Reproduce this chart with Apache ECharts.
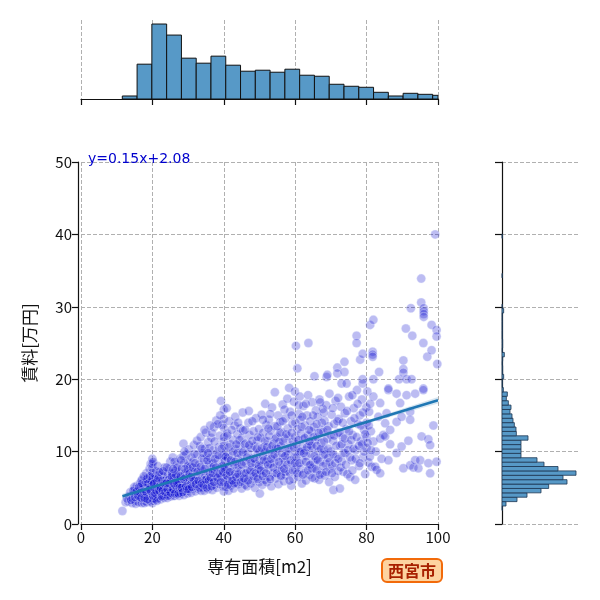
<!DOCTYPE html>
<html>
<head>
<meta charset="utf-8">
<title>西宮市 jointplot</title>
<script src="https://cdn.jsdelivr.net/npm/echarts@6/dist/echarts.min.js"></script>
<style>
html,body{margin:0;padding:0;background:#fff;}
#chart{width:600px;height:600px;}
</style>
</head>
<body>
<div id="chart"></div>
<script>
// 回帰式 (ラベルより)
var slope = 0.15;
var intercept = 2.08;
var lineStartX = 11.6;
var lineEndX = 100;
// 信頼区間の半幅 (目視)
var ciX = [11.6, 30, 56, 80, 100];
var ciHalf = [0.35, 0.15, 0.1, 0.2, 0.45];

// 上側ヒストグラム: 専有面積
var areaBinStart = 11.57;
var areaBinWidth = 4.14;
var areaCounts = [9, 104, 224, 191, 122, 107, 128, 101, 83, 86, 80, 89, 71, 68, 44, 38, 35, 20, 9, 17, 14, 11];

// 右側ヒストグラム: 賃料
var rentBinStart = 1.88;
var rentBinWidth = 0.606;
var rentCounts = [1, 12, 45, 75, 117, 140, 195, 183, 222, 168, 126, 105, 57, 57, 57, 57, 78, 43, 42, 37,
	33, 30, 24, 27, 19, 13, 16, 4, 1, 1, 5, 2, 2, 1, 2, 7, 1, 2, 2, 1,
	1, 1, 1, 1, 1, 5, 1, 0, 0, 0, 0, 0, 0, 1, 0, 0, 0, 0, 0, 0,
	0, 0, 1];

// 散布図 [専有面積, 賃料]
var points = [
	[11.6,1.8],[12.5,3.0],[13.2,3.1],[13.5,3.8],[13.8,4.4],[12.9,3.5],
	[14.3,2.9],[14.5,3.5],[14.8,4.2],[15.0,4.8],[15.2,3.2],[15.5,4.0],[15.7,5.3],[15.9,3.6],[14.9,5.1],[15.3,2.8],
	[16.1,3.0],[16.3,4.1],[16.5,4.7],[16.6,5.6],[16.8,3.4],[17.0,2.9],[17.0,4.4],[17.2,6.2],[17.3,5.0],[17.5,3.7],
	[17.6,4.0],[17.8,5.4],[17.9,3.2],[16.9,6.0],[17.4,4.8],[16.4,3.7],[17.7,2.9],[16.7,5.2],
	[18.0,3.5],[18.1,4.6],[18.2,5.8],[18.3,7.0],[18.4,3.0],[18.5,4.2],[18.6,5.1],[18.7,6.4],[18.8,3.8],[18.9,4.9],
	[19.0,5.6],[19.1,3.3],[19.2,7.6],[19.3,4.4],[19.4,6.0],[19.5,8.3],[19.6,3.6],[19.7,5.2],[19.8,4.0],[19.9,6.8],
	[18.5,5.5],[19.0,4.7],[18.2,3.9],[19.4,3.1],
	[20.0,2.9],[20.0,3.5],[20.0,4.1],[20.0,4.7],[20.0,5.3],[20.0,5.9],[20.0,6.5],[20.0,7.1],[20.0,7.7],[20.0,8.3],
	[20.0,9.0],[20.2,8.6],[20.1,6.2],
	[20.3,3.2],[20.4,4.4],[20.5,5.0],[20.6,5.7],[20.7,3.8],[20.8,6.6],[20.9,4.6],[21.0,3.4],[21.0,5.3],[21.1,7.3],
	[21.2,4.1],[21.3,6.0],[21.4,4.8],[21.5,3.6],[21.5,8.0],[21.6,5.5],[21.7,4.3],[21.8,6.8],[21.9,3.9],[22.0,5.1],
	[20.6,4.9],[21.2,5.8],[20.9,6.3],[21.7,5.0],[21.4,4.0],[20.5,3.5],
	[22.1,4.5],[22.2,6.2],[22.3,3.4],[22.4,5.6],[22.5,4.0],[22.6,7.0],[22.7,4.9],[22.8,3.7],[22.9,5.9],[23.0,4.3],
	[23.1,6.6],[23.2,5.2],[23.3,3.6],[23.4,7.8],[23.5,4.7],[23.6,5.5],[23.7,4.1],[23.8,6.3],[23.9,3.9],[22.4,4.8],
	[23.0,5.0],[22.7,6.0],[23.5,6.0],[22.9,3.9],[23.8,5.1],[22.2,5.3],
	[24.0,4.4],[24.1,5.8],[24.2,3.6],[24.3,6.9],[24.4,4.9],[24.5,5.3],[24.6,7.6],[24.7,4.1],[24.8,6.2],[24.9,5.0],
	[25.0,3.8],[25.0,8.6],[25.1,6.0],[25.2,4.6],[25.3,7.1],[25.4,5.5],[25.5,4.2],[25.6,6.5],[25.7,9.2],[25.8,5.1],
	[25.9,3.9],[24.5,6.1],[25.2,5.9],[24.8,4.5],[25.5,7.0],
	[26.0,4.8],[26.1,6.4],[26.2,3.9],[26.3,5.6],[26.4,7.4],[26.5,4.4],[26.6,6.0],[26.7,5.1],[26.8,8.2],[26.9,4.1],
	[27.0,6.8],[27.1,5.4],[27.2,4.6],[27.3,7.2],[27.4,5.8],[27.5,3.9],[27.6,6.3],[27.7,9.0],[27.8,5.0],[27.9,4.3],
	[26.5,5.3],[27.2,6.1],[26.8,4.8],[27.5,5.5],
	[28.0,4.2],[28.1,5.9],[28.2,7.6],[28.3,4.7],[28.5,6.6],[28.6,5.2],[28.7,11.1],[28.8,4.0],[28.9,8.4],[29.0,6.0],
	[29.1,5.0],[29.2,7.0],[29.4,4.5],[29.5,9.6],[29.6,5.6],[29.7,6.9],[29.8,4.2],[29.9,8.0],[28.4,5.3],[29.3,6.4],[28.7,9.4],
	[30.0,4.6],[30.0,5.5],[30.0,6.5],[30.0,7.5],[30.0,8.5],[30.2,10.3],[30.3,5.0],[30.5,6.1],[30.6,7.9],[30.8,4.3],
	[30.9,9.2],[31.0,5.8],[31.2,6.8],[31.3,4.9],[31.5,8.7],[31.6,10.9],[31.7,5.3],[31.9,7.3],[31.4,6.3],[30.7,5.5],
	[32.0,4.5],[32.1,6.0],[32.3,7.7],[32.4,5.2],[32.6,9.6],[32.7,6.6],[32.9,4.8],[33.0,8.2],[33.1,5.7],[33.3,10.8],
	[33.4,7.1],[33.6,4.6],[33.7,6.2],[33.9,9.0],[33.0,5.4],[32.5,11.5],[33.5,12.0],
	[34.0,5.0],[34.1,7.3],[34.2,6.0],[34.4,8.9],[34.5,4.6],[34.7,10.4],[34.8,6.6],[35.0,5.4],[35.0,7.9],[35.0,12.6],
	[35.2,9.5],[35.3,6.3],[35.5,4.8],[35.6,11.3],[35.7,7.0],[35.9,8.4],[35.4,5.8],[34.6,13.0],
	[36.0,5.1],[36.1,6.9],[36.2,9.1],[36.4,5.7],[36.5,11.9],[36.6,7.6],[36.8,4.7],[36.9,8.4],[37.0,6.2],[37.1,10.2],
	[37.3,13.4],[37.4,5.4],[37.5,7.3],[37.7,9.7],[37.8,6.5],[37.9,14.3],[37.2,8.0],[36.7,12.6],
	[38.0,5.0],[38.1,7.0],[38.3,8.8],[38.4,6.0],[38.6,10.6],[38.7,5.5],[38.9,12.2],[39.0,7.8],[39.2,17.0],[39.3,6.6],
	[39.5,9.3],[39.6,13.7],[39.8,5.2],[39.9,11.4],[40.0,4.5],[40.0,5.8],[40.0,7.0],[40.0,8.2],[40.0,9.5],[40.0,10.8],
	[40.0,12.0],[40.0,13.3],[40.0,14.5],[40.0,15.8],[39.5,8.0],
	[40.2,6.3],[40.3,8.7],[40.5,5.1],[40.6,10.0],[40.7,7.5],[40.9,12.5],[41.0,6.1],[41.1,9.1],[41.3,4.6],[41.4,7.9],
	[41.5,14.2],[41.7,6.8],[41.8,11.0],[41.9,8.5],[41.2,5.6],[40.8,16.0],
	[42.0,5.3],[42.1,7.2],[42.3,9.4],[42.4,6.4],[42.6,11.6],[42.7,4.9],[42.9,8.2],[43.0,13.6],[43.1,6.9],[43.3,10.3],
	[43.4,5.7],[43.6,7.7],[43.8,12.4],[43.9,9.0],[43.2,14.8],[42.5,6.0],
	[44.0,5.5],[44.1,8.0],[44.3,10.8],[44.4,6.5],[44.6,13.2],[44.7,7.3],[44.9,9.5],[45.0,4.9],[45.0,11.9],[45.2,6.0],
	[45.3,15.4],[45.5,8.6],[45.6,7.0],[45.8,10.2],[45.9,5.4],[45.4,12.9],
	[46.0,6.2],[46.2,8.4],[46.3,11.2],[46.5,5.2],[46.6,7.5],[46.8,9.8],[46.9,14.0],[47.1,6.7],[47.2,12.3],[47.4,8.9],
	[47.5,5.6],[47.7,10.5],[47.9,7.8],[47.0,15.6],
	[48.0,6.0],[48.1,9.1],[48.3,12.8],[48.4,7.2],[48.6,10.7],[48.7,5.0],[48.9,8.3],[49.0,14.6],[49.2,6.5],[49.3,11.5],
	[49.5,9.7],[49.6,7.6],[49.8,13.1],[49.9,5.8],[50.0,8.8],[50.1,4.2],[50.0,10.0],
	[50.2,6.9],[50.3,11.9],[50.5,8.0],[50.6,15.1],[50.8,5.4],[50.9,9.4],[51.0,12.6],[51.2,7.3],[51.3,10.6],[51.5,6.1],
	[51.6,16.6],[51.8,8.6],[51.9,13.7],[51.4,9.9],
	[52.0,5.8],[52.2,9.0],[52.3,11.4],[52.5,7.6],[52.6,14.4],[52.8,6.5],[52.9,10.2],[53.0,8.3],[53.2,12.9],[53.3,5.2],
	[53.5,16.1],[53.6,9.5],[53.8,7.0],[53.9,11.1],
	[54.0,8.5],[54.2,13.5],[54.3,18.2],[54.5,6.3],[54.6,10.4],[54.8,12.0],[55.0,7.4],[55.0,9.3],[55.2,15.0],[55.3,5.5],
	[55.5,11.3],[55.7,8.1],[55.8,14.1],[55.9,6.8],
	[56.0,10.8],[56.1,12.7],[56.3,7.7],[56.5,16.5],[56.6,9.1],[56.8,5.9],[57.0,11.8],[57.1,8.6],[57.3,14.6],[57.4,6.7],
	[57.6,10.1],[57.8,17.3],[57.9,13.2],[57.2,7.2],
	[58.0,9.6],[58.1,12.1],[58.3,18.8],[58.4,7.1],[58.6,15.5],[58.7,10.9],[58.9,5.3],[59.0,8.4],[59.2,13.8],[59.3,11.5],
	[59.5,6.2],[59.6,16.9],[59.8,9.2],[59.9,18.3],[60.0,10.0],[60.0,12.0],[60.0,14.0],[60.0,7.5],[60.2,24.6],[60.6,21.5],
	[60.3,11.0],[60.5,8.1],[60.6,13.1],[60.8,6.5],[61.0,15.2],[61.1,9.9],[61.3,17.6],[61.5,7.6],[61.6,12.5],[61.8,10.6],
	[61.9,5.6],[61.4,14.4],
	[62.0,8.8],[62.2,11.7],[62.3,16.3],[62.5,7.0],[62.7,13.6],[62.8,10.2],[63.0,6.0],[63.1,9.4],[63.3,15.0],[63.5,12.2],
	[63.6,17.8],[63.7,25.0],[63.8,8.0],[63.9,11.0],
	[64.0,6.8],[64.2,14.2],[64.3,9.7],[64.5,12.8],[64.7,7.7],[64.8,16.8],[65.0,10.5],[65.0,8.5],[65.2,13.4],[65.4,20.4],
	[65.5,6.3],[65.6,11.6],[65.8,15.7],[65.9,9.0],
	[66.0,7.4],[66.2,12.0],[66.3,14.8],[66.5,10.0],[66.7,6.1],[66.8,17.2],[67.0,8.6],[67.2,13.0],[67.3,11.2],[67.5,7.0],
	[67.7,15.9],[67.8,9.5],[67.9,12.7],
	[68.0,10.3],[68.2,14.3],[68.3,6.7],[68.5,8.3],[68.7,16.4],[68.8,20.3],[69.0,11.8],[69.0,20.6],[69.2,9.1],[69.3,13.5],
	[69.5,5.8],[69.6,18.0],[69.8,7.6],[69.9,12.3],
	[70.0,10.0],[70.2,15.1],[70.4,8.0],[70.6,11.5],[70.7,4.7],[70.9,13.8],[71.1,6.5],[71.3,17.0],[71.5,9.3],[71.8,21.6],
	[71.8,20.8],[71.9,12.6],
	[72.0,7.3],[72.2,14.5],[72.5,4.9],[72.6,10.8],[72.8,16.2],[73.0,8.7],[73.0,19.4],[73.3,12.0],[73.5,7.2],[73.8,22.4],
	[73.8,21.0],[73.9,15.3],
	[74.0,9.8],[74.3,13.1],[74.4,19.4],[74.6,6.9],[74.9,11.0],[75.1,17.6],[75.4,6.5],[75.6,14.2],[75.9,8.8],
	[76.1,12.3],[76.4,16.0],[76.8,6.1],[77.0,10.2],[77.2,26.0],[77.2,25.0],[77.3,18.5],[77.6,13.8],[77.9,8.0],
	[78.1,15.0],[78.2,22.7],[78.4,11.4],[78.7,17.2],[78.9,23.5],[78.9,20.0],[78.9,19.4],[79.0,9.2],[79.3,13.0],[79.6,6.9],
	[79.9,16.1],
	[80.0,10.5],[80.0,14.0],[80.0,12.0],[80.2,18.3],[80.5,8.5],[80.9,9.3],[81.0,27.5],[81.4,7.9],[81.7,23.8],[81.7,23.4],
	[81.7,23.1],[81.9,28.2],[81.9,20.0],[81.9,17.6],[81.9,11.4],[80.7,15.5],[81.2,12.8],
	[82.4,7.9],[82.8,7.5],[83.3,14.8],[83.5,21.0],[83.8,16.7],[83.8,11.8],[83.8,7.0],[84.7,12.3],[85.2,13.9],[85.2,12.1],
	[85.6,15.3],[82.6,10.0],[84.2,9.0],
	[86.1,18.5],[86.1,18.7],[86.1,8.8],[86.6,13.0],[86.6,11.0],[88.4,18.0],[88.4,14.1],[88.4,9.8],[89.1,20.0],[89.4,16.7],
	[89.8,14.8],[89.8,10.7],
	[90.3,22.6],[90.3,21.4],[90.3,20.9],[90.3,7.7],[91.0,27.0],[91.2,20.0],[91.2,17.8],[91.7,11.5],[92.2,15.5],[92.2,14.4],
	[92.2,8.1],[92.4,29.8],[92.6,20.0],[92.8,26.0],[93.1,7.8],[93.6,18.0],[93.6,8.8],
	[94.5,7.7],[95.0,8.8],[95.3,33.9],[95.3,30.6],[95.4,12.1],[95.9,25.0],[95.9,18.7],[95.9,18.5],[96.0,29.8],[96.0,29.4],
	[96.0,29.0],[96.0,28.6],[97.0,23.1],[97.3,11.7],[97.3,8.4],[97.8,10.9],[97.8,7.0],[98.2,27.5],[98.2,24.0],[98.7,13.6],
	[99.2,40.0],[99.6,26.8],[99.6,25.9],[99.6,8.6],[99.8,22.1],
	// 密集部
	[14.0,3.3],[14.6,4.6],[15.1,3.7],[15.6,4.5],[16.0,3.9],[16.2,5.1],[16.6,4.3],[16.9,3.6],[17.1,5.6],[17.5,4.5],
	[17.8,3.6],[18.3,4.4],[18.6,3.4],[18.8,5.6],[19.2,4.8],[19.6,4.5],[19.8,5.8],[18.4,6.2],[19.3,6.6],[17.6,6.6],
	[20.2,3.9],[20.4,5.6],[20.8,4.2],[21.1,4.6],[21.3,3.2],[21.6,6.3],[21.9,4.6],[22.3,5.0],[22.6,3.8],[22.9,4.6],
	[23.3,5.6],[23.6,4.4],[23.9,5.6],[24.2,4.8],[24.4,3.9],[24.7,5.6],[25.1,4.3],[25.4,6.6],[25.7,4.8],[26.0,5.6],
	[26.3,4.2],[26.6,6.8],[26.9,5.6],[27.3,4.2],[27.6,5.0],[27.9,6.6],[28.2,5.0],[28.5,4.4],[28.8,6.2],[29.1,7.6],
	[29.4,5.2],[29.7,4.8],[22.0,7.2],[23.0,7.3],[24.0,7.8],[26.2,8.6],[27.0,7.8],[28.0,8.8],[29.0,10.0],[25.8,7.6],
	[30.2,4.8],[30.4,7.0],[30.8,6.5],[31.1,5.1],[31.3,7.8],[31.7,6.0],[32.0,8.4],[32.2,5.5],[32.6,7.2],[32.9,6.0],
	[33.2,5.0],[33.5,7.9],[33.8,5.6],[34.1,9.8],[34.3,5.4],[34.6,7.6],[34.9,6.1],[35.2,5.0],[35.4,8.8],[35.8,6.0],
	[36.0,10.5],[36.3,6.4],[36.6,5.2],[36.9,7.0],[37.2,5.8],[37.5,9.0],[37.8,7.8],[38.2,6.4],[38.5,9.5],[38.8,6.9],
	[39.1,5.8],[39.4,10.4],[39.7,7.2],[31.8,9.7],[33.8,10.4],[35.6,9.8],[37.4,11.4],[38.3,13.8],[39.0,15.0],[36.2,13.6],
	[40.2,7.6],[40.5,9.3],[40.8,6.7],[41.1,5.4],[41.4,10.6],[41.7,7.2],[42.0,8.8],[42.3,6.0],[42.6,10.0],[42.9,5.6],
	[43.2,8.6],[43.5,6.5],[43.8,9.8],[44.1,6.9],[44.4,11.6],[44.7,5.8],[45.0,8.2],[45.3,9.9],[45.6,6.3],[45.9,11.0],
	[46.2,7.0],[46.5,9.2],[46.8,6.0],[47.1,10.9],[47.4,7.4],[47.7,8.4],[48.0,11.5],[48.3,6.6],[48.6,9.0],[48.9,7.0],
	[49.2,10.4],[49.5,6.2],[49.8,8.1],[41.0,12.2],[42.2,13.0],[44.0,14.0],[46.0,13.0],[48.0,14.2],[49.5,12.0],[43.5,11.0],
	[50.3,7.4],[50.6,10.5],[50.9,6.6],[51.2,8.8],[51.5,11.5],[51.8,7.0],[52.1,10.6],[52.4,8.2],[52.7,12.2],[53.0,6.2],
	[53.3,9.0],[53.6,10.8],[53.9,7.8],[54.2,9.6],[54.5,11.8],[54.8,7.0],[55.1,10.4],[55.4,8.6],[55.7,12.6],[56.0,6.6],
	[56.3,9.8],[56.6,11.4],[56.9,7.6],[57.2,9.4],[57.5,12.4],[57.8,8.2],[58.1,10.4],[58.4,6.0],[58.7,8.8],[59.0,12.6],
	[59.3,7.4],[59.6,10.6],[59.9,8.4],[51.0,14.4],[53.0,15.2],[55.0,13.5],[57.0,15.8],[59.0,15.0],[52.5,13.2],[56.5,14.2],
	[60.3,9.2],[60.6,7.0],[60.9,11.6],[61.2,8.4],[61.5,10.0],[61.8,13.4],[62.1,6.8],[62.4,9.8],[62.7,11.9],[63.0,8.6],
	[63.3,10.6],[63.6,7.4],[63.9,13.0],[64.2,8.2],[64.5,10.8],[64.8,6.4],[65.1,12.0],[65.4,9.4],[65.7,7.6],[66.0,10.8],
	[66.3,8.8],[66.6,12.6],[66.9,6.8],[67.2,10.4],[67.5,14.0],[67.8,8.0],[68.1,11.4],[68.4,9.6],[68.7,7.2],[69.0,13.0],
	[69.3,10.4],[69.6,8.6],[61.0,16.4],[63.0,16.6],[65.0,15.0],[67.0,16.8],[62.0,14.8],[64.0,11.4],[66.0,13.8],[68.0,15.4],
	[70.3,7.0],[70.6,9.6],[70.9,12.2],[71.2,8.4],[71.5,10.8],[71.8,14.2],[72.1,9.0],[72.4,12.6],[72.7,7.8],[73.0,11.0],
	[73.3,14.0],[73.6,9.8],[73.9,11.8],[74.2,8.2],[74.5,15.6],[74.8,10.2],[75.1,12.8],[75.4,9.2],[75.7,11.6],[76.0,7.4],
	[76.3,10.4],[76.6,14.6],[76.9,9.0],[77.2,12.0],[77.5,16.6],[77.8,10.8],[78.1,8.4],[78.4,13.6],[78.7,11.0],[79.0,15.4],
	[79.3,10.0],[79.6,12.4],[80.3,11.2],[80.6,13.6],[81.0,16.6],[81.3,10.2],[70.5,16.0],[72.0,17.4],[76.0,17.8]
];

var FONT = '"Noto Sans CJK JP", "Noto Sans", sans-serif';
var gridLine = {show:true, lineStyle:{color:'#b0b0b0', width:1, type:[4,2]}};

// ヒストグラム用データ [開始, 終了, 度数]
var areaBins = areaCounts.map(function(c, i){
	return [areaBinStart + i*areaBinWidth, areaBinStart + (i+1)*areaBinWidth, c];
});
var rentBins = rentCounts.map(function(c, i){
	return [rentBinStart + i*rentBinWidth, rentBinStart + (i+1)*rentBinWidth, c];
});

// 回帰直線と信頼区間
var regLine = [[lineStartX, slope*lineStartX + intercept], [lineEndX, slope*lineEndX + intercept]];
var ciBand = [];
for (var i = 0; i < ciX.length; i++) {
	var yc = slope*ciX[i] + intercept;
	ciBand.push([ciX[i], yc - ciHalf[i], yc + ciHalf[i]]);
}

var chart = echarts.init(document.getElementById('chart'), null, {renderer:'canvas'});

var option = {
	animation: false,
	textStyle: {fontFamily: FONT},
	grid: [
		{left:81, top:162, width:357, height:362},
		{left:81, top:20, width:357, height:79},
		{left:502, top:162, width:78, height:362}
	],
	xAxis: [
		{
			gridIndex:0, type:'value', min:0, max:100, interval:20,
			name:'専有面積[m2]', nameLocation:'middle', nameGap:34,
			nameTextStyle:{fontSize:17, color:'#111', fontFamily:FONT},
			axisLine:{show:true, onZero:false, lineStyle:{color:'#111', width:1.2}},
			axisTick:{show:true, length:6, lineStyle:{color:'#111', width:1.2}},
			axisLabel:{fontSize:15, color:'#111', margin:6, fontFamily:FONT},
			splitLine:gridLine
		},
		{
			gridIndex:1, type:'value', min:0, max:100, interval:20,
			axisLine:{show:true, onZero:false, lineStyle:{color:'#111', width:1.2}},
			axisTick:{show:true, length:6, lineStyle:{color:'#111', width:1.2}},
			axisLabel:{show:false},
			splitLine:gridLine
		},
		{
			gridIndex:2, type:'value', min:0, max:234, show:false
		}
	],
	yAxis: [
		{
			gridIndex:0, type:'value', min:0, max:50, interval:10, offset:3,
			name:'賃料[万円]', nameLocation:'middle', nameGap:40,
			nameTextStyle:{fontSize:17, color:'#111', fontFamily:FONT},
			axisLine:{show:true, onZero:false, lineStyle:{color:'#111', width:1.2}},
			axisTick:{show:true, length:6, lineStyle:{color:'#111', width:1.2}},
			axisLabel:{fontSize:15, color:'#111', margin:6, fontFamily:FONT},
			splitLine:gridLine
		},
		{
			gridIndex:1, type:'value', min:0, max:236, show:false
		},
		{
			gridIndex:2, type:'value', min:0, max:50, interval:10,
			axisLine:{show:true, onZero:false, lineStyle:{color:'#111', width:1.2}},
			axisTick:{show:true, length:7, lineStyle:{color:'#111', width:1.2}},
			axisLabel:{show:false},
			splitLine:gridLine
		}
	],
	series: [
		{
			// 散布図
			type:'scatter', xAxisIndex:0, yAxisIndex:0,
			symbol:'circle', symbolSize:9, large:false,
			itemStyle:{color:'rgba(0,0,205,0.33)', borderColor:'rgba(235,240,255,0.55)', borderWidth:0.8},
			data:points, z:2
		},
		{
			// 信頼区間
			type:'custom', xAxisIndex:0, yAxisIndex:0, z:3,
			renderItem:function(params, api){
				if (params.dataIndex !== 0) return;
				var upper = [], lower = [];
				for (var k = 0; k < ciBand.length; k++) {
					upper.push(api.coord([ciBand[k][0], ciBand[k][2]]));
					lower.unshift(api.coord([ciBand[k][0], ciBand[k][1]]));
				}
				return {
					type:'polygon',
					shape:{points:upper.concat(lower)},
					style:{fill:'rgba(31,119,180,0.18)', stroke:null}
				};
			},
			data:ciBand
		},
		{
			// 回帰直線
			type:'line', xAxisIndex:0, yAxisIndex:0, z:4,
			data:regLine, symbol:'none',
			lineStyle:{color:'#1f77b4', width:2.6}
		},
		{
			// 上側ヒストグラム
			type:'custom', xAxisIndex:1, yAxisIndex:1,
			renderItem:function(params, api){
				var x1 = Math.min(api.value(1), 100);
				var p0 = api.coord([api.value(0), api.value(2)]);
				var p1 = api.coord([x1, 0]);
				return {
					type:'rect',
					shape:{x:p0[0], y:p0[1], width:p1[0]-p0[0], height:p1[1]-p0[1]},
					style:{fill:'#5799c7', stroke:'#111', lineWidth:1}
				};
			},
			encode:{x:[0,1], y:2},
			data:areaBins
		},
		{
			// 右側ヒストグラム
			type:'custom', xAxisIndex:2, yAxisIndex:2,
			renderItem:function(params, api){
				if (api.value(2) <= 0) return;
				var p0 = api.coord([0, api.value(1)]);
				var p1 = api.coord([api.value(2), api.value(0)]);
				return {
					type:'rect',
					shape:{x:p0[0], y:p0[1], width:p1[0]-p0[0], height:p1[1]-p0[1]},
					style:{fill:'#5799c7', stroke:'#1c3550', lineWidth:0.8}
				};
			},
			encode:{x:2, y:[0,1]},
			data:rentBins
		}
	],
	graphic: [
		{
			type:'text', left:88, top:152, z:10,
			style:{text:'y=' + slope + 'x+' + intercept, fontSize:14, fill:'#0000cd', fontFamily:'"DejaVu Sans", sans-serif'}
		},
		{
			type:'text', left:381, top:558, z:10,
			style:{
				text:'西宮市', fontSize:16, fontWeight:'bold', fill:'#a82000', fontFamily:FONT,
				backgroundColor:'#fdd3a0', borderColor:'#f26a0a', borderWidth:2, borderRadius:4,
				padding:[3,5,2,5]
			}
		}
	]
};
chart.setOption(option);
</script>
</body>
</html>
